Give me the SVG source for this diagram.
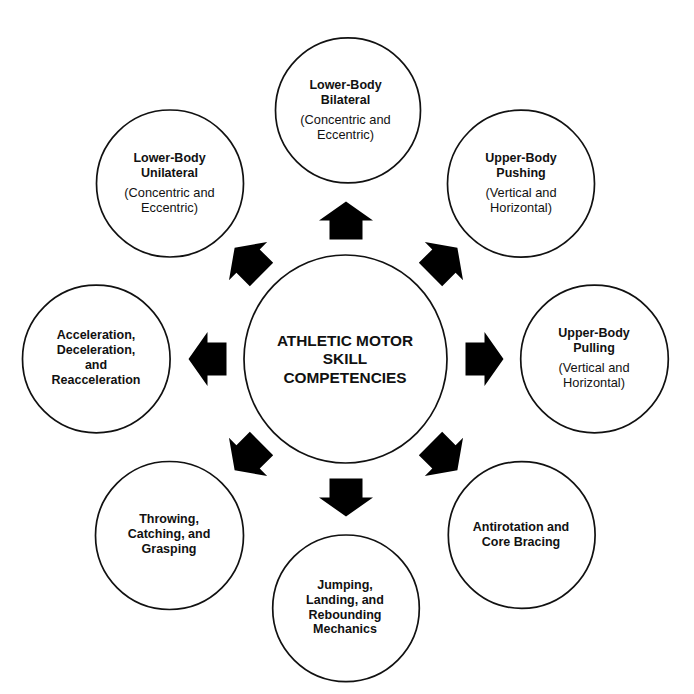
<svg xmlns="http://www.w3.org/2000/svg" width="694" height="694" viewBox="0 0 694 694">
<style>
.c{fill:#fff;stroke:#111;stroke-width:1.7}
.b{font-family:"Liberation Sans",Arial,sans-serif;font-weight:bold;font-size:12.5px;fill:#111;text-anchor:middle}
.r{font-family:"Liberation Sans",Arial,sans-serif;font-size:12.8px;fill:#111;text-anchor:middle}
.t{font-family:"Liberation Sans",Arial,sans-serif;font-weight:bold;font-size:15.4px;fill:#111;text-anchor:middle}
.a{fill:#000}
</style>
<defs>
<path id="arr" d="M119.5,-16.5 L138.5,-16.5 L138.5,-27 L157.5,0 L138.5,27 L138.5,16.5 L119.5,16.5 Z"/>
</defs>
<rect width="694" height="694" fill="#fff"/>
<g id="connectors" class="a">
<use href="#arr" transform="translate(346,359) rotate(-90)"/>
<use href="#arr" transform="translate(346,359) rotate(-45)"/>
<use href="#arr" transform="translate(346,359) rotate(0)"/>
<use href="#arr" transform="translate(346,359) rotate(45)"/>
<use href="#arr" transform="translate(346,359) rotate(90)"/>
<use href="#arr" transform="translate(346,359) rotate(135)"/>
<use href="#arr" transform="translate(346,359) rotate(180)"/>
<use href="#arr" transform="translate(346,359) rotate(-135)"/>
</g>
<g id="center">
<ellipse class="c" cx="345.5" cy="359" rx="101.5" ry="104"/>
<text class="t" x="345" y="345.5">ATHLETIC MOTOR</text>
<text class="t" x="345" y="364.3">SKILL</text>
<text class="t" x="345" y="382.7">COMPETENCIES</text>
</g>
<g id="lower-body-bilateral">
<circle class="c" cx="348" cy="110.3" r="72.5"/>
<text class="b" x="345.5" y="89">Lower-Body</text>
<text class="b" x="345.5" y="103.5">Bilateral</text>
<text class="r" x="345.5" y="124">(Concentric and</text>
<text class="r" x="345.5" y="138.7">Eccentric)</text>
</g>
<g id="upper-body-pushing">
<circle class="c" cx="521" cy="183.7" r="73.5"/>
<text class="b" x="521" y="161.7">Upper-Body</text>
<text class="b" x="521" y="176.7">Pushing</text>
<text class="r" x="521" y="197.3">(Vertical and</text>
<text class="r" x="521" y="212.3">Horizontal)</text>
</g>
<g id="upper-body-pulling">
<circle class="c" cx="594.5" cy="359" r="73.8"/>
<text class="b" x="594" y="336.7">Upper-Body</text>
<text class="b" x="594" y="351.7">Pulling</text>
<text class="r" x="594" y="372.3">(Vertical and</text>
<text class="r" x="594" y="387.3">Horizontal)</text>
</g>
<g id="antirotation">
<circle class="c" cx="521.7" cy="535" r="73.4"/>
<text class="b" x="521" y="530.7">Antirotation and</text>
<text class="b" x="521" y="545.7">Core Bracing</text>
</g>
<g id="jumping">
<circle class="c" cx="346" cy="608.3" r="73.3"/>
<text class="b" x="345" y="589">Jumping,</text>
<text class="b" x="345" y="604">Landing, and</text>
<text class="b" x="345" y="619">Rebounding</text>
<text class="b" x="345" y="633.3">Mechanics</text>
</g>
<g id="throwing">
<circle class="c" cx="169.5" cy="535.5" r="74"/>
<text class="b" x="169" y="523.3">Throwing,</text>
<text class="b" x="169" y="538.3">Catching, and</text>
<text class="b" x="169" y="552.7">Grasping</text>
</g>
<g id="acceleration">
<circle class="c" cx="96.3" cy="359" r="73.8"/>
<text class="b" x="96" y="339.3">Acceleration,</text>
<text class="b" x="96" y="354.3">Deceleration,</text>
<text class="b" x="96" y="369.3">and</text>
<text class="b" x="96" y="384.3">Reacceleration</text>
</g>
<g id="lower-body-unilateral">
<circle class="c" cx="170" cy="183.5" r="73.5"/>
<text class="b" x="169.5" y="161.7">Lower-Body</text>
<text class="b" x="169.5" y="176.7">Unilateral</text>
<text class="r" x="169.5" y="197.3">(Concentric and</text>
<text class="r" x="169.5" y="212.3">Eccentric)</text>
</g>
</svg>
